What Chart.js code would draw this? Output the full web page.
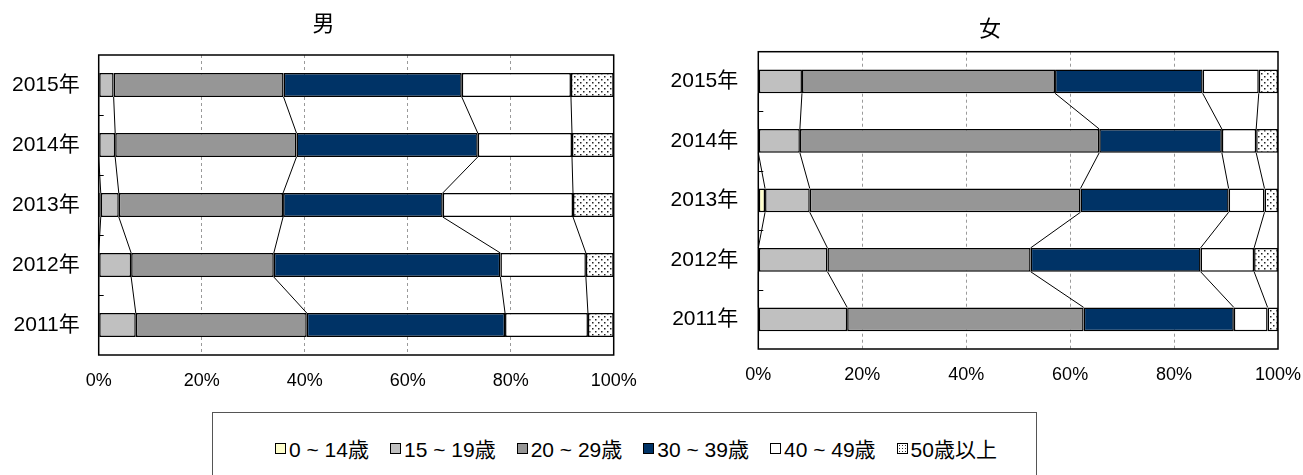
<!DOCTYPE html>
<html>
<head>
<meta charset="utf-8">
<script src="https://cdn.jsdelivr.net/npm/chart.js@4/dist/chart.umd.min.js"></script>
<style>
  html, body { margin: 0; padding: 0; background: #fff; overflow: hidden; }
  body { width: 1303px; height: 475px; position: relative; font-family: "Liberation Sans", "Noto Sans CJK JP", sans-serif; }
  .box { position: absolute; }
  #legend {
    position: absolute; left: 212px; top: 412px; width: 825px; height: 80px;
    border: 1px solid #555; box-sizing: border-box;
    display: flex; align-items: flex-start; padding: 20px 0 0 62px;
    font-size: 21px; color: #000;
  }
  .item { display: flex; align-items: center; margin-right: 21px; white-space: nowrap; }
  .sw { width: 9px; height: 9px; border: 1px solid #000; margin-right: 3px; }
</style>
</head>
<body>
<div class="box" style="left:0;top:0;width:647px;height:400px;"><canvas id="male"></canvas></div>
<div class="box" style="left:660px;top:0;width:660px;height:394px;"><canvas id="female"></canvas></div>
<div id="legend"></div>

<script>
// 年（上から 2015 → 2011）
const years = ['2015年', '2014年', '2013年', '2012年', '2011年'];
const ageGroups = ['0 ~ 14歳', '15 ~ 19歳', '20 ~ 29歳', '30 ~ 39歳', '40 ~ 49歳', '50歳以上'];
const xTicks = [0, 20, 40, 60, 80, 100];

// 男（%）
const male0to14  = [0, 0, 0.4, 0, 0];
const male15to19 = [2.9, 3.2, 3.5, 6.3, 7.2];
const male20to29 = [33.0, 35.2, 31.9, 27.7, 33.2];
const male30to39 = [34.6, 35.2, 31.0, 44.0, 38.5];
const male40to49 = [21.2, 18.3, 25.3, 16.6, 16.1];
const male50plus = [8.3, 8.1, 7.9, 5.4, 5.0];

// 女（%）
const female0to14  = [0, 0, 1.3, 0, 0];
const female15to19 = [8.4, 8.0, 8.6, 13.3, 17.1];
const female20to29 = [48.7, 57.6, 52.1, 39.1, 45.5];
const female30to39 = [28.4, 23.6, 28.5, 32.7, 28.9];
const female40to49 = [10.8, 6.6, 6.9, 10.3, 6.5];
const female50plus = [3.7, 4.2, 2.6, 4.6, 2.0];

const FONT = '"Liberation Sans", "Noto Sans CJK JP", sans-serif';

// 50歳以上の点々パターン
function dotPattern() {
  const c = document.createElement('canvas');
  c.width = 6; c.height = 6;
  const g = c.getContext('2d');
  g.fillStyle = '#fff';
  g.fillRect(0, 0, 6, 6);
  g.fillStyle = '#222';
  g.fillRect(1, 1, 1.5, 1.5);
  g.fillRect(4, 4, 1.5, 1.5);
  return g.createPattern(c, 'repeat');
}

const fills = ['#FFFFCC', '#C0C0C0', '#969696', '#003366', '#FFFFFF', dotPattern()];
const swatchCss = ['#FFFFCC', '#C0C0C0', '#969696', '#003366', '#FFFFFF',
  'radial-gradient(circle, #333 0.6px, #fff 0.8px) 0 0/3px 3px'];

// 区切り線・枠・目盛り
const seriesLines = {
  id: 'seriesLines',
  afterDatasetsDraw(chart) {
    const { ctx, chartArea: a, scales: { x } } = chart;
    const n = chart.data.labels.length;
    const metas = chart.data.datasets.map((_, d) => chart.getDatasetMeta(d));
    ctx.save();
    ctx.strokeStyle = '#000';
    ctx.lineWidth = 1;
    for (let d = 0; d < metas.length - 1; d++) {
      for (let i = 0; i < n - 1; i++) {
        let c1 = 0, c2 = 0;
        for (let k = 0; k <= d; k++) {
          c1 += chart.data.datasets[k].data[i];
          c2 += chart.data.datasets[k].data[i + 1];
        }
        const b1 = metas[0].data[i], b2 = metas[0].data[i + 1];
        ctx.beginPath();
        ctx.moveTo(x.getPixelForValue(c1), b1.y + b1.height / 2);
        ctx.lineTo(x.getPixelForValue(c2), b2.y - b2.height / 2);
        ctx.stroke();
      }
    }
    // 左軸の小目盛り
    for (let i = 0; i < n - 1; i++) {
      const yy = Math.round((metas[0].data[i].y + metas[0].data[i + 1].y) / 2) + 0.5;
      ctx.beginPath();
      ctx.moveTo(a.left, yy);
      ctx.lineTo(a.left + 5, yy);
      ctx.stroke();
    }
    ctx.lineWidth = 1.5;
    ctx.strokeRect(a.left, a.top, a.right - a.left, a.bottom - a.top);
    ctx.restore();
  }
};

function makeChart(id, title, series, opts) {
  return new Chart(document.getElementById(id), {
    type: 'bar',
    data: {
      labels: years,
      datasets: series.map((data, i) => ({
        label: ageGroups[i],
        data,
        backgroundColor: fills[i],
        borderColor: '#000',
        borderWidth: 1.5,
        borderSkipped: false,
        barPercentage: 0.4,
        categoryPercentage: 1.0
      }))
    },
    options: {
      indexAxis: 'y',
      responsive: true,
      maintainAspectRatio: false,
      animation: false,
      layout: { padding: 0 },
      plugins: {
        legend: { display: false },
        tooltip: { enabled: false },
        title: {
          display: true,
          text: title,
          color: '#000',
          font: { family: FONT, size: 22, weight: 'normal' },
          padding: opts.titlePad
        }
      },
      scales: {
        x: {
          stacked: true,
          min: 0,
          max: 100,
          afterBuildTicks: (s) => { s.ticks = xTicks.map(v => ({ value: v })); },
          afterFit: (s) => { s.height = 45; s.paddingLeft = 0; s.paddingRight = opts.right; },
          border: { display: false, dash: [3, 3] },
          grid: {
            drawTicks: false,
            color: (c) => (c.tick && (c.tick.value === 0 || c.tick.value === 100)) ? 'rgba(0,0,0,0)' : '#9a9a9a',
            lineWidth: 1
          },
          ticks: {
            padding: 15,
            color: '#000',
            maxRotation: 0,
            font: { family: FONT, size: 18 },
            callback: (v) => v + '%'
          }
        },
        y: {
          stacked: true,
          afterFit: (s) => { s.width = opts.yWidth; },
          border: { display: false },
          grid: { display: false, drawTicks: false },
          ticks: {
            padding: opts.yPad,
            color: '#000',
            font: { family: FONT, size: 21 }
          }
        }
      }
    },
    plugins: [seriesLines]
  });
}

makeChart('male', '男',
  [male0to14, male15to19, male20to29, male30to39, male40to49, male50plus],
  { right: 33.3, yWidth: 98.7, yPad: 19, titlePad: { top: 12, bottom: 16.6 } });

makeChart('female', '女',
  [female0to14, female15to19, female20to29, female30to39, female40to49, female50plus],
  { right: 42, yWidth: 98.3, yPad: 20, titlePad: { top: 17, bottom: 8.3 } });

// 凡例
const legend = document.getElementById('legend');
ageGroups.forEach((name, i) => {
  const it = document.createElement('div');
  it.className = 'item';
  const sw = document.createElement('span');
  sw.className = 'sw';
  sw.style.background = swatchCss[i];
  const tx = document.createElement('span');
  tx.textContent = name;
  it.appendChild(sw);
  it.appendChild(tx);
  legend.appendChild(it);
});
</script>
</body>
</html>
